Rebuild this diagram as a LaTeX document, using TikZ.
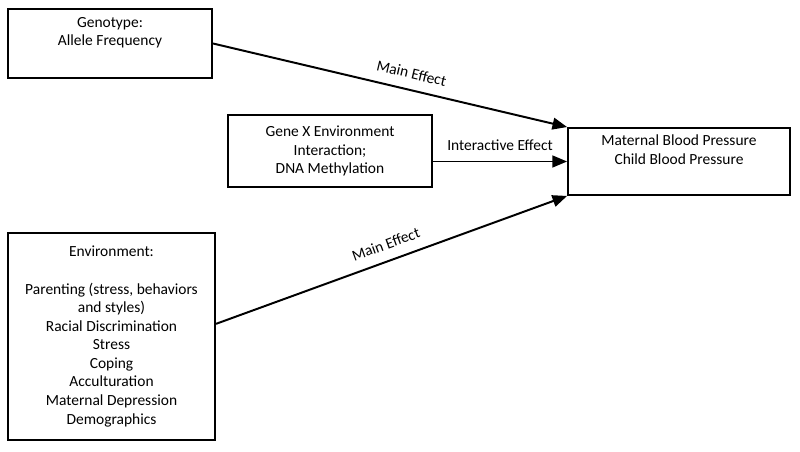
\documentclass[tikz,border=0pt]{standalone}
\usepackage{fontspec}
\setmainfont{Carlito}
\usepackage{tikz}
\usetikzlibrary{positioning}
\usetikzlibrary{shapes,arrows}
\tikzset{%
  block/.style    = {draw, line width=1.4pt, rectangle, align=center,
    font=\fontsize{11}{13.2}\selectfont},
  effect/.style   = {font=\fontsize{11}{13.2}\selectfont, above=4pt} % arrow labels
}

\begin{document}
\begin{tikzpicture}[line width=1.4pt, x=0.025cm, y=-0.025cm, >=triangle 45]
  \useasboundingbox (0,0) rectangle (800,452);

	\draw node at (110,43.5) [block, minimum width=5.1cm, minimum height=1.725cm] (geno) {Genotype:\\Allele Frequency\\ \strut};
	\draw node at (330,151) [block, minimum width=5.1cm, minimum height=1.8cm] (gxe) {Gene X Environment\\Interaction;\\DNA Methylation};

	\draw node at (679,161.5) [block, minimum width=5.55cm, minimum height=1.675cm] (outcome) {Maternal Blood Pressure\\Child Blood Pressure\\ \strut};

	\draw node at (111.5,336.5) [block, minimum width=5.175cm, minimum height=5.175cm] (env) {Environment:\\ \strut\\Parenting (stress, behaviors\\and styles)\\Racial Discrimination\\Stress\\Coping\\Acculturation\\Maternal Depression\\Demographics};

  \draw[->] (geno.east) -- node[effect, pos=0.55, sloped] {Main Effect} (outcome.north west);
  \draw[->] (gxe.east |- outcome.west) -- node[effect] {Interactive Effect} (outcome.west);
  \draw[->] ([yshift=9pt]env.east) -- node[effect, sloped] {Main Effect} (outcome.south west);

  \end{tikzpicture}
\end{document}
